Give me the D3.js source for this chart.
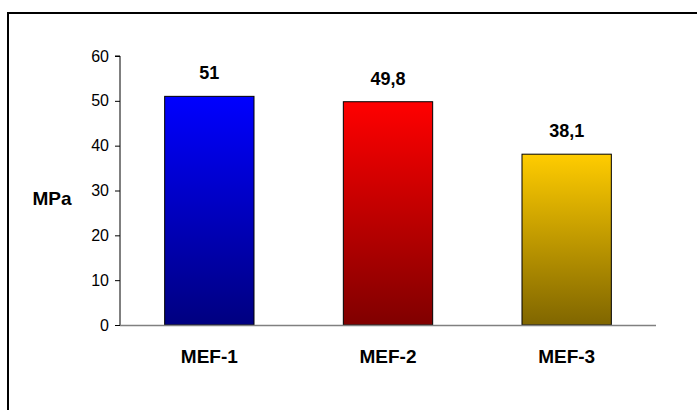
<!DOCTYPE html>
<html><head><meta charset="utf-8">
<script src="https://cdn.jsdelivr.net/npm/d3@7"></script>
<style>html,body{margin:0;padding:0;background:#fff;}svg{display:block;}</style>
</head><body>
<script>
const categories = ["MEF-1", "MEF-2", "MEF-3"];
const values = [51, 49.8, 38.1];
const valueLabels = ["51", "49,8", "38,1"];
const yTicks = [0, 10, 20, 30, 40, 50, 60];
const topColors = ["#0000ff", "#ff0000", "#ffcc00"];
const bottomColors = ["#000080", "#800000", "#806600"];

const W = 697, H = 410;
const svg = d3.select("body").append("svg").attr("width", W).attr("height", H);
const font = "Arial, 'Liberation Sans', sans-serif";

svg.append("rect").attr("x", 8).attr("y", 13).attr("width", 720).attr("height", 420)
  .attr("fill", "none").attr("stroke", "#000").attr("stroke-width", 2);

const x = d3.scaleBand().domain(categories).range([120, 656]).paddingInner(0.5).paddingOuter(0.25);
const y = d3.scaleLinear().domain([0, 60]).range([325, 56]);

const defs = svg.append("defs");
categories.forEach((c, i) => {
  const g = defs.append("linearGradient").attr("id", "g" + i).attr("x1", 0).attr("y1", 0).attr("x2", 0).attr("y2", 1);
  g.append("stop").attr("offset", "0%").attr("stop-color", topColors[i]);
  g.append("stop").attr("offset", "100%").attr("stop-color", bottomColors[i]);
});

svg.selectAll("rect.bar").data(values).enter().append("rect").attr("class", "bar")
  .attr("x", (d, i) => x(categories[i])).attr("width", x.bandwidth())
  .attr("y", d => y(d)).attr("height", d => y(0) - y(d))
  .attr("fill", (d, i) => `url(#g${i})`).attr("stroke", "#000").attr("stroke-width", 1);

// y axis
const ya = svg.append("g").attr("transform", "translate(120,0)")
  .call(d3.axisLeft(y).tickValues(yTicks).tickSize(5).tickPadding(6));
ya.select(".domain").attr("stroke", "#000").attr("d", `M-5,${y(60)}H0V${y(0)}`);
ya.selectAll("text").attr("font-family", font).attr("font-size", 16).attr("fill", "#000");
ya.selectAll("line").attr("stroke", "#000");

// x axis line
svg.append("line").attr("x1", 120).attr("x2", 656).attr("y1", y(0) + 0.5).attr("y2", y(0) + 0.5)
  .attr("stroke", "#808080").attr("stroke-width", 1.5);

// category labels
svg.selectAll("text.cat").data(categories).enter().append("text").attr("class", "cat")
  .attr("x", d => x(d) + x.bandwidth() / 2).attr("y", 363)
  .attr("text-anchor", "middle").attr("font-family", font).attr("font-size", 19)
  .attr("font-weight", "bold").text(d => d);

// value labels
svg.selectAll("text.val").data(values).enter().append("text").attr("class", "val")
  .attr("x", (d, i) => x(categories[i]) + x.bandwidth() / 2).attr("y", d => y(d) - 17)
  .attr("text-anchor", "middle").attr("font-family", font).attr("font-size", 18)
  .attr("font-weight", "bold").text((d, i) => valueLabels[i]);

svg.append("text").attr("x", 52).attr("y", 205).attr("text-anchor", "middle")
  .attr("font-family", font).attr("font-size", 19).attr("font-weight", "bold").text("MPa");
</script>
</body></html>
